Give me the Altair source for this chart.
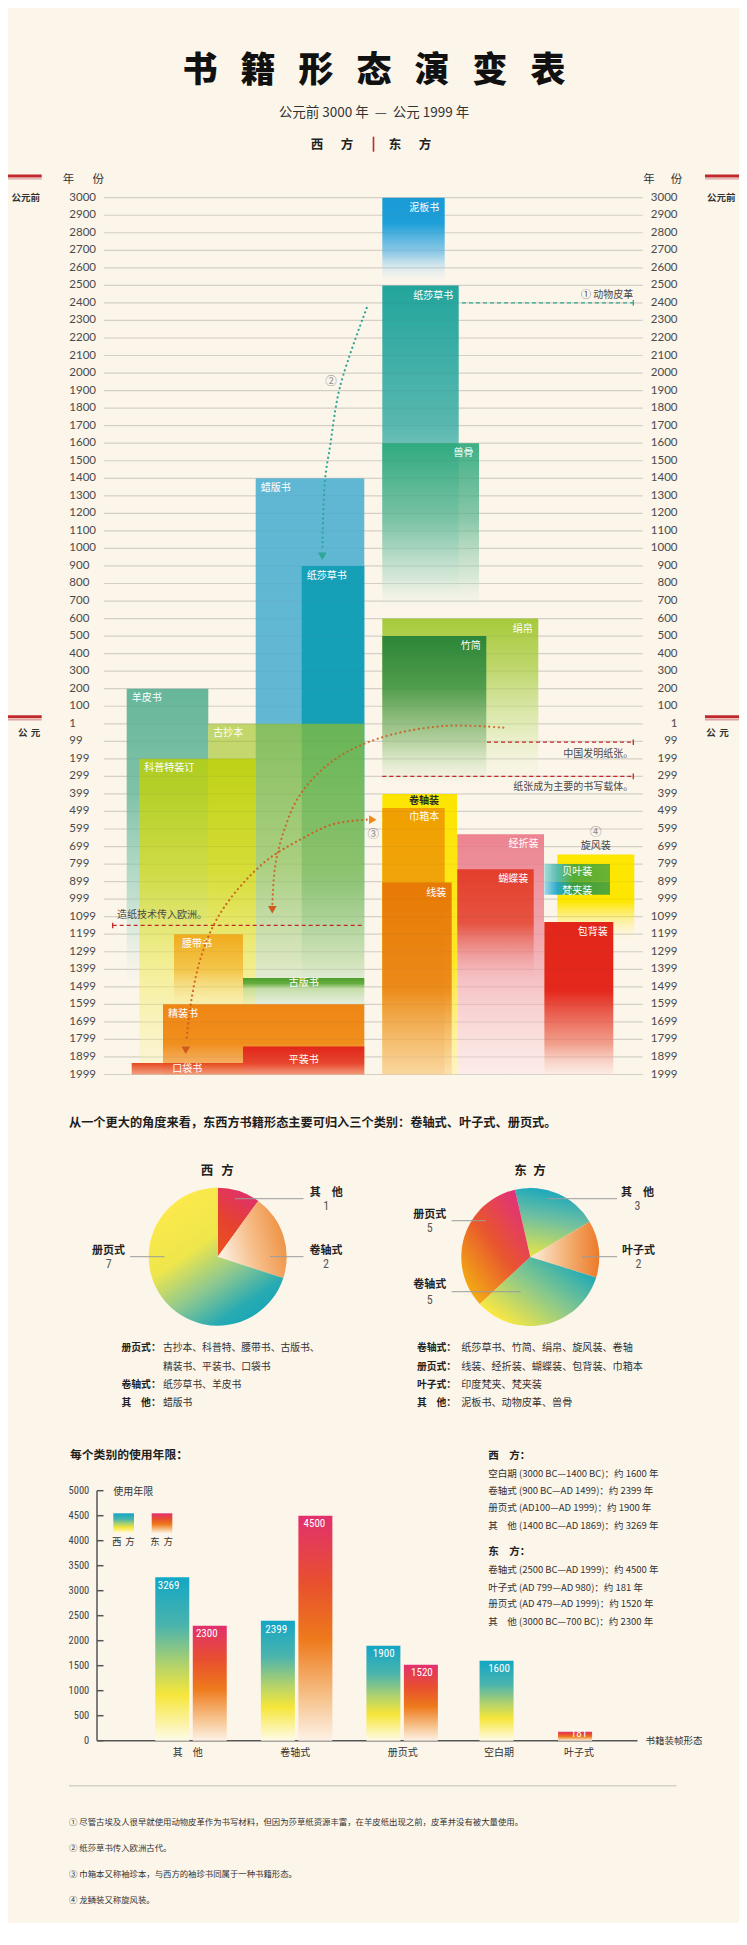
import math
import altair as alt
import pandas as pd

BG = "#fcf5ea"
CJK = "Noto Sans CJK SC"
NUMF = "Lato"
NARROW = "Liberation Sans Narrow, Roboto Condensed, Roboto"
GRID = "#dcd8ce"
INK = "#333333"
RED = "#c0282c"
NB = "\u00a0"

# ---------------- data ----------------
# timeline ticks on a signed-year scale (BC negative, "1" = 0, AD "k99" = (k+1)*100)
year_pos = list(range(-3000, 2001, 100))
year_labels = [
    "3000", "2900", "2800", "2700", "2600", "2500", "2400", "2300", "2200", "2100",
    "2000", "1900", "1800", "1700", "1600", "1500", "1400", "1300", "1200", "1100",
    "1000", "900", "800", "700", "600", "500", "400", "300", "200", "100",
    "1", "99", "199", "299", "399", "499", "599", "699", "799", "899", "999",
    "1099", "1199", "1299", "1399", "1499", "1599", "1699", "1799", "1899", "1999",
]

form_names = ["蜡版书", "纸莎草书", "羊皮书", "古抄本", "科普特装订", "腰带书", "古版书", "精装书", "平装书", "口袋书",
              "泥板书", "纸莎草书", "兽骨", "绢帛", "竹简", "卷轴装", "巾箱本", "线装", "经折装", "蝴蝶装",
              "旋风装", "贝叶装", "梵夹装", "包背装"]
form_side = ["西方"] * 10 + ["东方"] * 14
form_start = [-1400, -900, -200, 0, 200, 1200, 1450, 1600, 1840, 1935,
              -3000, -2500, -1600, -600, -500, 400, 480, 905, 630, 830, 745, 800, 900, 1130]
form_fade = [1870, 1500, 1500, 1600, 2000, 1620, 1650, 2000, 2000, 2000,
             -2515, -720, -640, 370, 340, 2000, 2000, 2000, 2000, 1450, 1230, 900, 975, 2000]
form_col0 = [151.7, 197.7, 22.7, 104.3, 35.3, 70.0, 139.0, 59.0, 139.0, 27.7,
             278.3, 278.3, 278.3, 278.3, 278.3, 278.3, 278.3, 278.3, 353.3, 353.3, 453.3, 440.3, 440.3, 440.3]
form_col1 = [260.3, 260.3, 104.3, 260.3, 151.7, 139.0, 260.3, 260.3, 260.3, 139.0,
             340.7, 354.7, 375.0, 434.3, 382.3, 353.0, 340.7, 347.7, 440.0, 429.7, 530.3, 506.0, 506.0, 509.3]

event_text = ["① 动物皮革", "中国发明纸张。", "纸张成为主要的书写载体。", "造纸技术传入欧洲。"]
event_year = [-2400, 105, 300, 1150]
event_x0 = [358.0, 383.0, 278.3, 8.7]
event_x1 = [529.3, 529.3, 529.3, 260.3]

curve2_x = [262.7, 236.0, 226.0, 221.0, 218.3]
curve2_v = [-2371, -1922, -1580, -1390, -985]
curveA_x = [399.3, 339.3, 276.0, 229.3, 196.0, 179.3, 171.0, 168.3]
curveA_v = [22, 13, 81, 209, 405, 621, 818, 1040]
curveB_x = [262.7, 229.3, 196.0, 162.7, 129.3, 109.3, 96.0, 87.7, 82.7]
curveB_v = [547, 572, 661, 779, 975, 1152, 1348, 1564, 1790]

west_cats = ["其他", "卷轴式", "册页式"]
west_counts = [1, 2, 7]
east_cats = ["其他", "叶子式", "卷轴式", "册页式"]
east_counts = [3, 2, 5, 5]

use_cats = ["其　他", "卷轴式", "册页式", "空白期", "叶子式"]
use_west = [3269, 2399, 1900, 1600, None]
use_east = [2300, 4500, 1520, None, 181]
use_ticks = [0, 500, 1000, 1500, 2000, 2500, 3000, 3500, 4000, 4500, 5000]

# ---------------- helpers ----------------
def rgba(h, a=1.0):
    h = h.lstrip("#")
    return "rgba(%d,%d,%d,%s)" % (int(h[0:2], 16), int(h[2:4], 16), int(h[4:6], 16), a)


def grad(stops, x1=0.0, y1=0.0, x2=0.0, y2=1.0):
    return alt.LinearGradient(
        gradient="linear",
        stops=[alt.GradientStop(color=rgba(c, a), offset=o) for o, c, a in stops],
        x1=x1, y1=y1, x2=x2, y2=y2)


def one(**kw):
    return pd.DataFrame({k: [v] for k, v in kw.items()})


def T(text, x, y, size=10, color=INK, align="left", weight="normal", font=CJK):
    return alt.Chart(one(t=text)).mark_text(
        align=align, baseline="middle", fontSize=size, color=color,
        fontWeight=weight, font=font).encode(x=alt.value(x), y=alt.value(y), text="t:N")


def spaced(text, xs, y, **kw):
    """letter-spaced heading: one glyph per x position"""
    return [T(c, x, y, align="center", **kw) for c, x in zip(text, xs)]


def R(x, y, x2=None, y2=None, color=INK, width=1.0, dash=None):
    kw = dict(color=color, strokeWidth=width)
    if dash is not None:
        kw["strokeDash"] = dash
    enc = dict(x=alt.value(x), y=alt.value(y))
    if x2 is not None:
        enc["x2"] = alt.value(x2)
    if y2 is not None:
        enc["y2"] = alt.value(y2)
    return alt.Chart(one(k=0)).mark_rule(**kw).encode(**enc)


layers = []

# ---------------- header ----------------
layers += spaced("书籍形态演变表", [192 + 58 * i for i in range(7)], 63, size=35, color="#111", weight=900)
layers.append(T("公元前 3000 年" + NB * 2 + "—" + NB * 2 + "公元 1999 年", 366, 104.5, size=13.5,
                color="#333", align="center"))
layers += spaced("西方", [309, 339], 136.7, size=12.5, color="#222", weight="bold")
layers += spaced("东方", [387, 417], 136.7, size=12.5, color="#222", weight="bold")
layers.append(R(365.5, 128.7, y2=143.7, color=RED, width=1.6))

for xa, xb in [(0, 33.7), (697, 731)]:
    layers.append(R(xa, 168.0, x2=xb, color=RED, width=3))
    layers.append(R(xa, 170.9, x2=xb, color="#d9a3a0", width=1.4))
    layers.append(R(xa, 708.8, x2=xb, color=RED, width=3))
    layers.append(R(xa, 711.7, x2=xb, color="#d9a3a0", width=1.4))

layers += spaced("年份", [60.5, 90.3], 172, size=11.5, color="#333")
layers += spaced("年份", [641.0, 668.5], 172, size=11.5, color="#333")
for xx in [17.8, 713.3]:
    layers.append(T("公元前", xx, 190.3, size=9.5, color="#333", align="center", weight="bold"))
layers += spaced("公元", [14.7, 27.5], 725, size=9.5, color="#333", weight="bold")
layers += spaced("公元", [703.0, 716.0], 725, size=9.5, color="#333", weight="bold")

# ---------------- timeline ----------------
XT = alt.Scale(domain=[0, 538.7], range=[96, 634.7], zero=False, nice=False)
YT = alt.Scale(domain=[-3000, 2000], range=[189.7, 1066.5], zero=False, nice=False)


def tx(f):
    return alt.X(f, scale=XT, axis=None)


def ty(f):
    return alt.Y(f, scale=YT, axis=None)


grid_df = pd.DataFrame({"v": year_pos, "lab": year_labels})
layers.append(alt.Chart(grid_df).mark_rule(color=GRID, strokeWidth=1.2).encode(
    x=alt.value(96), x2=alt.value(634.7), y=ty("v:Q")))
layers.append(alt.Chart(grid_df).mark_text(align="left", baseline="middle", font=NUMF, fontSize=11.5,
                                           color="#4a4a4a").encode(x=alt.value(61.3), y=ty("v:Q"), text="lab:N"))
layers.append(alt.Chart(grid_df).mark_text(align="right", baseline="middle", font=NUMF, fontSize=11.5,
                                           color="#4a4a4a").encode(x=alt.value(669.5), y=ty("v:Q"), text="lab:N"))

V = (0, 0, 0, 1)
H = (0, 0, 1, 0)
bar_styles = [
    ([(0, "#5fb7d3", 1), (0.42, "#62b8d3", 1), (0.72, "#a2d3e0", 0.85), (1, "#d2eaef", 0)], V),
    ([(0, "#16a0b8", 1), (0.38, "#16a0b8", 1), (0.75, "#4fb0a8", 0.75), (1, "#a0d4c8", 0)], V),
    ([(0, "#5fb396", 0.95), (0.35, "#72bca0", 0.9), (0.7, "#a8d6c4", 0.7), (1, "#d6ece4", 0)], V),
    ([(0, "#9cc21a", 0.62), (0.5, "#b0cc30", 0.55), (0.85, "#d8e070", 0.35), (1, "#f0f0b0", 0)], V),
    ([(0, "#bcd000", 0.8), (0.35, "#d6dc20", 0.78), (0.65, "#f2ec70", 0.7), (1, "#fbf4c0", 0.45)], V),
    ([(0, "#f0a818", 0.95), (0.5, "#f4c040", 0.85), (1, "#f8e0a0", 0)], V),
    ([(0, "#4c9e2a", 1), (0.16, "#60aa38", 0.95), (0.3, "#b4d690", 0.7), (1, "#dcecc8", 0)], V),
    ([(0, "#ef8614", 1), (0.55, "#f08e1c", 1), (0.85, "#f4aa58", 0.9), (1, "#f8c890", 0.75)], V),
    ([(0, "#e2261c", 1), (0.6, "#e6402a", 0.95), (1, "#f08a70", 0.8)], V),
    ([(0, "#e6481e", 1), (1, "#f09070", 0.85)], V),
    ([(0, "#1a9ad6", 1), (0.3, "#1e9fd8", 1), (0.65, "#7cc2e6", 0.85), (1, "#d8eef8", 0)], V),
    ([(0, "#22a59c", 1), (0.45, "#4fb4ac", 0.95), (0.8, "#a4d8d2", 0.7), (1, "#d8eeea", 0)], V),
    ([(0, "#2aa87a", 0.9), (0.45, "#6cbc98", 0.8), (0.8, "#b8dcc4", 0.5), (1, "#e0f0e4", 0)], V),
    ([(0, "#a6ca3a", 1), (0.3, "#b8d460", 0.9), (0.65, "#d8e8a8", 0.7), (1, "#eef4dc", 0)], V),
    ([(0, "#2c8638", 1), (0.35, "#4a9a4a", 0.95), (0.7, "#98c088", 0.7), (1, "#d0e4c4", 0)], V),
    ([(0, "#fde500", 1), (0.6, "#fde82a", 1), (1, "#fff3a8", 0.6)], V),
    ([(0, "#f0a000", 1), (0.5, "#f1a812", 1), (1, "#f8d490", 0.6)], V),
    ([(0, "#e77a04", 1), (0.55, "#eb8818", 0.95), (1, "#f8cc98", 0.5)], V),
    ([(0, "#ec8390", 1), (0.45, "#f0a0a8", 0.9), (1, "#fce4e6", 0.5)], V),
    ([(0, "#e43e2c", 1), (0.5, "#e6503c", 0.95), (1, "#f0a0a0", 0)], V),
    ([(0, "#fde600", 1), (0.55, "#fde600", 1), (1, "#fff4a0", 0)], V),
    ([(0, "#a8dcd8", 1), (0.2, "#58bcb0", 1), (0.45, "#58ac32", 1), (1, "#6cb232", 1)], H),
    ([(0, "#a0d8e8", 1), (0.2, "#2aaac8", 1), (0.45, "#3e9e3c", 1), (1, "#58a83a", 1)], H),
    ([(0, "#e3261a", 1), (0.45, "#e4281c", 1), (0.8, "#f0907c", 0.85), (1, "#fbe2dc", 0.5)], V),
]

for i in range(len(form_names)):
    stops, d = bar_styles[i]
    df = pd.DataFrame({"name": [form_names[i]], "c0": [form_col0[i]], "c1": [form_col1[i]],
                       "s": [form_start[i]], "e": [form_fade[i]]})
    layers.append(alt.Chart(df).mark_rect(fill=grad(stops, *d), strokeWidth=0).encode(
        x=tx("c0:Q"), x2="c1:Q", y=ty("s:Q"), y2="e:Q"))

# faint grid showing through the blocks
layers.append(alt.Chart(grid_df).mark_rule(color="#6a6a6a", strokeWidth=1, opacity=0.07).encode(
    x=alt.value(96), x2=alt.value(634.7), y=ty("v:Q")))

# block labels
lab_rows = []
for i, nm in enumerate(form_names):
    c0, c1, s = form_col0[i], form_col1[i], form_start[i]
    if form_side[i] == "西方":
        row = dict(t=nm, lx=c0 + 5, ly=s + 55, al="left", col="#ffffff", wt="normal")
    else:
        row = dict(t=nm, lx=c1 - 5.5, ly=s + 58, al="right", col="#ffffff", wt="normal")
    lab_rows.append(row)
lab_rows[5]["lx"] = form_col0[5] + 8
for k, yy in [(6, 1476), (8, 1918), (9, 1967), (21, 847), (22, 951)]:
    lab_rows[k].update(al="center", lx=(form_col0[k] + form_col1[k]) / 2, ly=yy)
lab_rows[15].update(lx=form_col1[15] - 18, ly=439, col="#2a2a2a", wt="bold")
lab_rows[16].update(ly=533)
lab_rows[17].update(ly=965)
lab_rows[20].update(al="center", lx=(form_col0[20] + form_col1[20]) / 2, ly=696, col="#444444")
lab_df = pd.DataFrame(lab_rows)
for (al, col, wt), g in lab_df.groupby(["al", "col", "wt"]):
    layers.append(alt.Chart(g).mark_text(align=al, baseline="middle", fontSize=10, font=CJK,
                                         color=col, fontWeight=wt).encode(
        x=tx("lx:Q"), y=ty("ly:Q"), text="t:N"))

# event lines
ev_df = pd.DataFrame({"t": event_text, "v": event_year, "x0": event_x0, "x1": event_x1,
                      "col": ["#33a58f", RED, RED, RED]})
layers.append(alt.Chart(ev_df).mark_rule(strokeWidth=1.3, strokeDash=[4, 3]).encode(
    x=tx("x0:Q"), x2="x1:Q", y=ty("v:Q"), color=alt.Color("col:N", scale=None)))
tick_df = pd.DataFrame({"x": [529.3, 529.3, 529.3, 8.7],
                        "v0": [v - 16 for v in event_year], "v1": [v + 16 for v in event_year],
                        "col": ["#33a58f", RED, RED, RED]})
layers.append(alt.Chart(tick_df).mark_rule(strokeWidth=1.3).encode(
    x=tx("x:Q"), y=ty("v0:Q"), y2="v1:Q", color=alt.Color("col:N", scale=None)))
ev_txt = pd.DataFrame({"t": event_text, "x": [529.3, 529.3, 529.3, 13.0], "v": [-2445, 170, 360, 1093],
                       "al": ["right", "right", "right", "left"]})
for al, g in ev_txt.groupby("al"):
    layers.append(alt.Chart(g).mark_text(align=al, baseline="middle", fontSize=10, font=CJK,
                                         color="#4a4a4a").encode(x=tx("x:Q"), y=ty("v:Q"), text="t:N"))


# dotted arrows
def curve(xs, vs, color, op=1.0):
    df = pd.DataFrame({"x": xs, "v": vs, "i": list(range(len(xs)))})
    return alt.Chart(df).mark_line(interpolate="catmull-rom", strokeDash=[0.1, 4.6], strokeCap="round",
                                   strokeWidth=2.2, color=color, opacity=op).encode(
        x=tx("x:Q"), y=ty("v:Q"), order="i:O")


TEAL_A = "#2ea596"
ORG_A = "#cf5a1e"
layers.append(curve(curve2_x, curve2_v, TEAL_A))
layers.append(curve(curveA_x, curveA_v, ORG_A, 0.85))
layers.append(curve(curveB_x, curveB_v, ORG_A, 0.9))
heads = [(218.3, -955, "triangle-down", TEAL_A), (168.3, 1060, "triangle-down", ORG_A),
         (81.8, 1862, "triangle-down", ORG_A), (268.8, 547, "triangle-right", "#ef8a1a")]
for hx, hv, shp, col in heads:
    layers.append(alt.Chart(one(x=hx, v=hv)).mark_point(shape=shp, filled=True, size=75, color=col,
                                                       opacity=1, strokeWidth=0).encode(
        x=tx("x:Q"), y=ty("v:Q")))
circ_df = pd.DataFrame({"t": ["②", "③", "④"], "x": [227.0, 269.3, 491.8], "v": [-1949, 637, 621]})
layers.append(alt.Chart(circ_df).mark_text(align="center", baseline="middle", fontSize=11.5, font=CJK,
                                           color="#8a8a8a").encode(x=tx("x:Q"), y=ty("v:Q"), text="t:N"))

# ---------------- pies ----------------
layers.append(T("从一个更大的角度来看，东西方书籍形态主要可归入三个类别：卷轴式、叶子式、册页式。", 61, 1115.3,
                size=12.2, color="#1e1e1e", weight="bold"))
layers += spaced("西方", [199.0, 219.5], 1163.3, size=12.5, color="#222", weight="bold")
layers += spaced("东方", [512.5, 531.5], 1163.3, size=12.5, color="#222", weight="bold")

west_grads = [
    grad([(0, "#e0306c", 1), (0.55, "#e6422e", 1), (1, "#ea5220", 1)], 0.6, 0, 0.2, 1),
    grad([(0, "#fdf0e4", 1), (0.45, "#f6c08c", 1), (1, "#ee8c3a", 1)], 0, 0.6, 1, 0.3),
    grad([(0, "#fde94c", 1), (0.35, "#eee64c", 1), (0.62, "#8cc890", 1), (0.85, "#28aab2", 1),
          (1, "#14a6b8", 1)], 0.25, 0.05, 0.85, 0.95),
]
east_grads = [
    grad([(0, "#16a6c0", 1), (0.45, "#70c0a0", 1), (1, "#e6e448", 1)], 0.5, 0, 0.3, 1),
    grad([(0, "#fdeede", 1), (0.5, "#f4b47a", 1), (1, "#ec7a28", 1)], 0, 0.5, 1, 0.5),
    grad([(0, "#12a6bc", 1), (0.5, "#88c88c", 1), (1, "#fde840", 1)], 1, 0.2, 0.15, 0.9),
    grad([(0, "#e0307c", 1), (0.5, "#e8552e", 1), (1, "#f3aa14", 1)], 0.9, 0.1, 0.2, 0.95),
]


def pie(cats, counts, grads, start, cx, cy):
    total = sum(counts)
    sc = alt.Scale(domain=[0, total], range=[start, start + 2 * math.pi], zero=False, nice=False)
    out = []
    acc = 0
    for c, n, g in zip(cats, counts, grads):
        df = pd.DataFrame({"cat": [c], "a0": [acc], "a1": [acc + n]})
        acc += n
        out.append(alt.Chart(df).mark_arc(radius=69, fill=g, strokeWidth=0).encode(
            theta=alt.Theta("a0:Q", scale=sc, stack=False), theta2="a1:Q",
            x=alt.value(cx), y=alt.value(cy)))
    return out


layers += pie(west_cats, west_counts, west_grads, 0.0, 209.7, 1248.7)
layers += pie(east_cats, east_counts, east_grads, 2 * math.pi - 0.2234, 522.3, 1249.0)

LEAD = "#9c9c9c"
for x0, x1, yy in [(226.9, 295.5, 1190.7), (262.0, 295.5, 1248.7), (122.0, 156.4, 1248.7),
                   (539.9, 609.0, 1190.7), (574.2, 609.0, 1248.7), (443.6, 478.0, 1212.7),
                   (443.6, 512.7, 1283.7)]:
    layers.append(R(x0, yy, x2=x1, color=LEAD, width=1))

pie_lab = [("其　他", 318.3, 1184.5, "1", 1198), ("卷轴式", 318.0, 1243, "2", 1256),
           ("册页式", 100.6, 1243, "7", 1256),
           ("其　他", 629.4, 1184.5, "3", 1198), ("叶子式", 630.4, 1243, "2", 1256),
           ("册页式", 421.7, 1206.7, "5", 1220), ("卷轴式", 421.7, 1277.3, "5", 1291.7)]
for nm, xx, yy, num, ny in pie_lab:
    layers.append(T(nm, xx, yy, size=11, color="#222", align="center", weight="bold"))
    layers.append(T(num, xx, ny, size=12, color="#555", align="center", font=NARROW))

west_leg = [("册页式：", "古抄本、科普特、腰带书、古版书、"), ("", "精装书、平装书、口袋书"),
            ("卷轴式：", "纸莎草书、羊皮书"), ("其　他：", "蜡版书")]
east_leg = [("卷轴式：", "纸莎草书、竹简、绢帛、旋风装、卷轴"), ("册页式：", "线装、经折装、蝴蝶装、包背装、巾箱本"),
            ("叶子式：", "印度梵夹、梵夹装"), ("其　他：", "泥板书、动物皮革、兽骨")]
leg_y = [1340.3, 1358.7, 1377.0, 1395.3]
for (hd, body), yy in zip(west_leg, leg_y):
    if hd:
        layers.append(T(hd, 113.5, yy, size=9.8, color="#222", weight="bold"))
    layers.append(T(body, 154.9, yy, size=9.8, color="#333"))
for (hd, body), yy in zip(east_leg, leg_y):
    layers.append(T(hd, 408.9, yy, size=9.8, color="#222", weight="bold"))
    layers.append(T(body, 453.2, yy, size=10.1, color="#333"))

# ---------------- usage-years bar chart ----------------
layers.append(T("每个类别的使用年限：", 62, 1447, size=11.8, color="#1e1e1e", weight="bold"))

XB = alt.Scale(domain=[0, 540.5], range=[89, 629.5], zero=False, nice=False)
YB = alt.Scale(domain=[0, 5000], range=[1732.7, 1482.7], zero=False, nice=False)
cat_center = [90.7, 198.3, 305.8, 402.0, 482.0]

rows = []
for c, ctr, w, e in zip(use_cats, cat_center, use_west, use_east):
    both = (w is not None) and (e is not None)
    if w is not None:
        rows.append(dict(cat=c, side="西方", val=w, pos=ctr - 19.1 if both else ctr))
    if e is not None:
        rows.append(dict(cat=c, side="东方", val=e, pos=ctr + 19.1 if both else ctr))
bars = pd.DataFrame(rows)
bars["ly"] = [v - 175 if v > 600 else v * 0.72 for v in bars["val"]]

W_GRAD = [(0, "#12a6c6", 1), (0.3, "#4cb4ac", 1), (0.55, "#b8d468", 1), (0.72, "#f6e63a", 1), (1, "#fffbe8", 1)]
E_GRAD = [(0, "#e2306e", 1), (0.3, "#e8502e", 1), (0.55, "#ee7a1c", 1), (0.8, "#f6c088", 1), (1, "#fdf2e6", 1)]

axis_df = pd.DataFrame({"x0": [0.0], "x1": [540.5], "y0": [0], "y1": [5000]})
layers.append(alt.Chart(axis_df).mark_rule(color="#555", strokeWidth=1.5).encode(
    x=alt.X("x0:Q", scale=XB, axis=None), y=alt.Y("y0:Q", scale=YB, axis=None), y2="y1:Q"))
layers.append(alt.Chart(axis_df).mark_rule(color="#555", strokeWidth=1.5).encode(
    x=alt.X("x0:Q", scale=XB, axis=None), x2="x1:Q", y=alt.Y("y0:Q", scale=YB, axis=None)))
tk = pd.DataFrame({"v": use_ticks, "a": 0.0, "b": 6.5})
layers.append(alt.Chart(tk).mark_rule(color="#555", strokeWidth=1.5).encode(
    x=alt.X("a:Q", scale=XB, axis=None), x2="b:Q", y=alt.Y("v:Q", scale=YB, axis=None)))
layers.append(alt.Chart(tk).mark_text(align="right", baseline="middle", font=NARROW, fontSize=10.5,
                                      color="#444").encode(
    x=alt.value(81.3), y=alt.Y("v:Q", scale=YB, axis=None), text=alt.Text("v:Q", format="d")))

for side, stops in [("西方", W_GRAD), ("东方", E_GRAD)]:
    sub = bars[bars["side"] == side]
    layers.append(alt.Chart(sub).mark_bar(orient="vertical", size=34, fill=grad(stops), strokeWidth=0).encode(
        x=alt.X("pos:Q", scale=XB, axis=None), y=alt.Y("val:Q", scale=YB, axis=None)))
layers.append(alt.Chart(bars).mark_text(align="center", baseline="middle", font=NARROW, fontSize=11,
                                        color="#ffffff").encode(
    x=alt.X("pos:Q", scale=XB, axis=None), y=alt.Y("ly:Q", scale=YB, axis=None),
    text=alt.Text("val:Q", format="d")))
cat_df = pd.DataFrame({"cat": use_cats, "c": cat_center})
layers.append(alt.Chart(cat_df).mark_text(align="center", baseline="middle", font=CJK, fontSize=10,
                                          color="#333").encode(
    x=alt.X("c:Q", scale=XB, axis=None), y=alt.value(1744.7), text="cat:N"))
layers.append(T("书籍装帧形态", 637.5, 1732.7, size=9.5, color="#333"))
layers.append(T("使用年限", 105.3, 1483.7, size=10, color="#333"))

# legend swatches
for (xa, xb), stops, lab, lxs in [((105.3, 126.0), W_GRAD, "西方", [108.7, 122.0]),
                                  ((143.7, 164.3), E_GRAD, "东方", [147.0, 160.3])]:
    layers.append(alt.Chart(one(k=0)).mark_rect(fill=grad(stops), strokeWidth=0).encode(
        x=alt.value(xa), x2=alt.value(xb), y=alt.value(1505.3), y2=alt.value(1525.3)))
    layers += spaced(lab, lxs, 1534.3, size=9.5, color="#333")

info_lines = [
    ("西　方：", 1448.0, True),
    ("空白期 (3000 BC—1400 BC)：约 1600 年", 1466.0, False),
    ("卷轴式 (900 BC—AD 1499)：约 2399 年", 1483.0, False),
    ("册页式 (AD100—AD 1999)：约 1900 年", 1500.3, False),
    ("其　他 (1400 BC—AD 1869)：约 3269 年", 1518.0, False),
    ("东　方：", 1544.3, True),
    ("卷轴式 (2500 BC—AD 1999)：约 4500 年", 1562.3, False),
    ("叶子式 (AD 799—AD 980)：约 181 年", 1579.7, False),
    ("册页式 (AD 479—AD 1999)：约 1520 年", 1596.3, False),
    ("其　他 (3000 BC—700 BC)：约 2300 年", 1613.7, False),
]
for txt, yy, bold in info_lines:
    layers.append(T(txt, 480.3, yy, size=10.5 if bold else 9.5, color="#222" if bold else "#333",
                    weight="bold" if bold else "normal"))

# ---------------- footnotes ----------------
layers.append(R(61, 1777.7, x2=668.5, color="#d6d2c6", width=1.5))
footnotes = [
    "① 尽管古埃及人很早就使用动物皮革作为书写材料，但因为莎草纸资源丰富，在羊皮纸出现之前，皮革并没有被大量使用。",
    "② 纸莎草书传入欧洲古代。",
    "③ 巾箱本又称袖珍本，与西方的袖珍书同属于一种书籍形态。",
    "④ 龙鳞装又称旋风装。",
]
for txt, yy in zip(footnotes, [1813.7, 1839.7, 1866.0, 1892.0]):
    layers.append(T(txt, 61, yy, size=8.4, color="#333"))

chart = alt.layer(*layers).resolve_scale(
    x="independent", y="independent", theta="independent", color="independent"
).properties(
    width=731, height=1915, background=BG, padding=0, autosize="none"
).configure_view(stroke=None)

chart.save("out.html", embed_options={"renderer": "svg", "actions": False})
